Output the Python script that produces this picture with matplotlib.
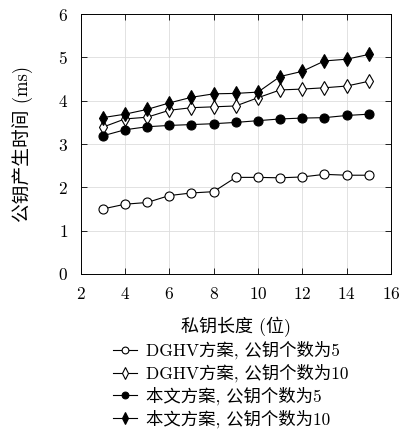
import matplotlib
matplotlib.use('Agg')
import matplotlib.pyplot as plt

plt.rcParams['font.family'] = ['cmr10', 'Noto Sans CJK SC', 'DejaVu Serif']
plt.rcParams['axes.formatter.use_mathtext'] = True
plt.rcParams['font.size'] = 12

# key length (bits)
key_len = [3, 4, 5, 6, 7, 8, 9, 10, 11, 12, 13, 14, 15]

# public key generation time (ms)
dghv_5 = [1.50, 1.61, 1.65, 1.81, 1.87, 1.90, 2.23, 2.23, 2.22, 2.24, 2.30, 2.28, 2.28]
dghv_10 = [3.39, 3.58, 3.62, 3.78, 3.84, 3.86, 3.88, 4.07, 4.25, 4.27, 4.30, 4.34, 4.45]
ours_5 = [3.19, 3.33, 3.40, 3.43, 3.45, 3.47, 3.50, 3.54, 3.58, 3.60, 3.61, 3.66, 3.69]
ours_10 = [3.61, 3.69, 3.80, 3.95, 4.08, 4.16, 4.17, 4.20, 4.56, 4.68, 4.92, 4.96, 5.07]

labels = ['DGHV方案, 公钥个数为5', 'DGHV方案, 公钥个数为10',
          '本文方案, 公钥个数为5', '本文方案, 公钥个数为10']

fig = plt.figure(figsize=(4.01, 4.30), dpi=100)
ax = fig.add_axes([0.201, 0.363, 0.774, 0.604])

ax.plot(key_len, dghv_5, '-o', color='black', lw=0.8, ms=6.5, mfc='white', mew=0.8, label=labels[0])
ax.plot(key_len, dghv_10, '-d', color='black', lw=0.8, ms=7.5, mfc='white', mew=0.8, label=labels[1])
ax.plot(key_len, ours_5, '-o', color='black', lw=0.8, ms=6.5, mfc='black', mew=0.8, label=labels[2])
ax.plot(key_len, ours_10, '-d', color='black', lw=0.8, ms=7.5, mfc='black', mew=0.8, label=labels[3])

ax.set_xlim(2, 16)
ax.set_ylim(0, 6)
ax.set_xticks([2, 4, 6, 8, 10, 12, 14, 16])
ax.set_yticks([0, 1, 2, 3, 4, 5, 6])
ax.tick_params(direction='in', top=True, right=True, length=4, width=0.6, labelsize=12.5, pad=9)
ax.grid(True, color='#dddddd', lw=0.6)
for s in ax.spines.values():
    s.set_linewidth(0.7)

ax.set_xlabel('私钥长度 (位)', fontsize=13, labelpad=10)
ax.set_ylabel('公钥产生时间 (ms)', fontsize=13.5, labelpad=18)

fig.legend(loc='upper left', bbox_to_anchor=(0.26, 0.228), frameon=False,
           handlelength=1.4, handletextpad=0.5, labelspacing=0.26,
           fontsize=12.5, markerscale=0.75, borderpad=0)

fig.savefig('out.png', dpi=100)
